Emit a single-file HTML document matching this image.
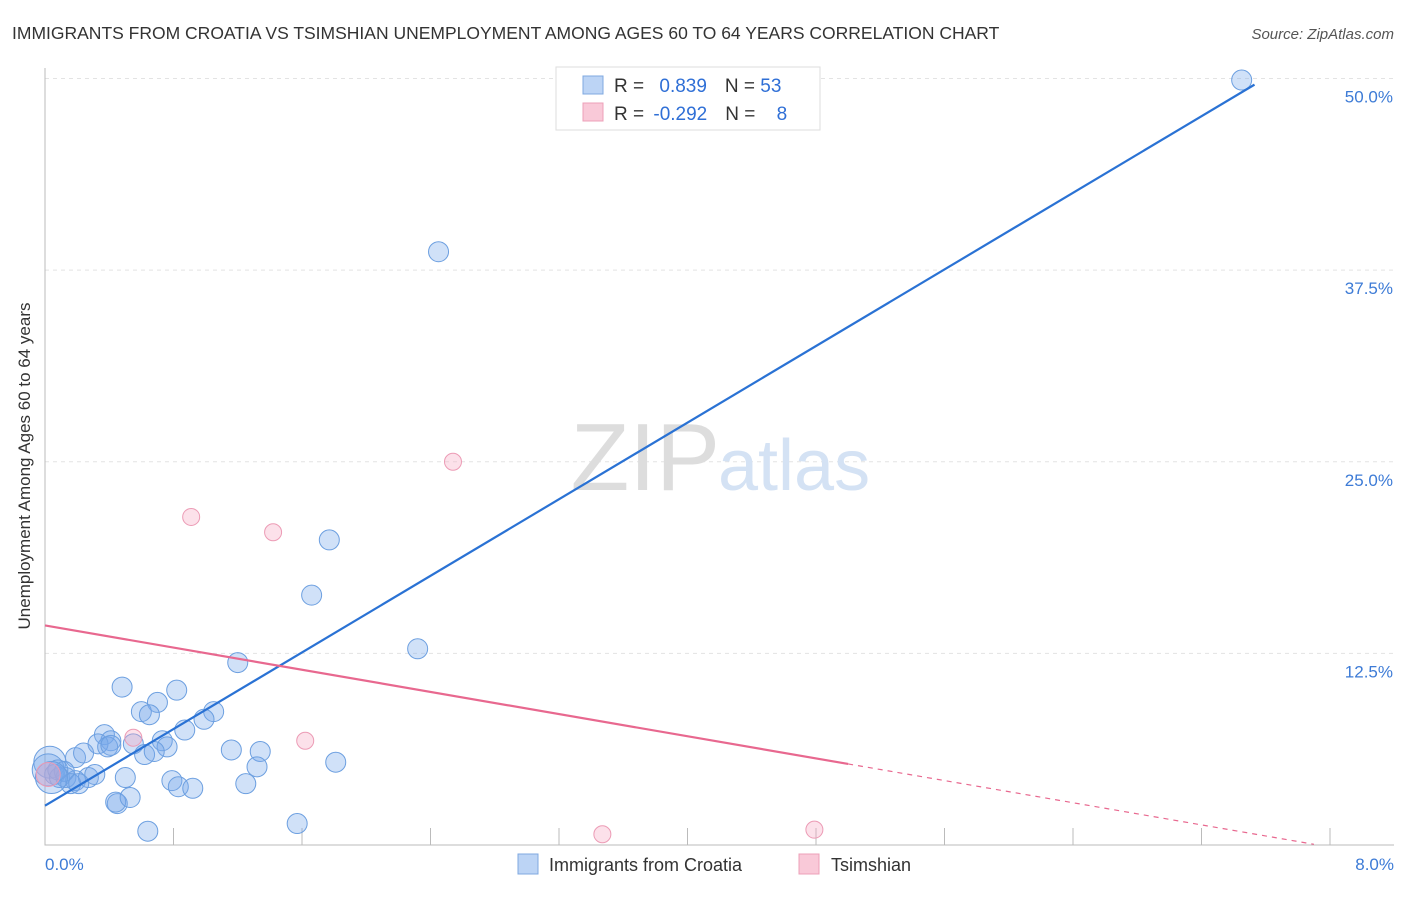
<!DOCTYPE html>
<html><head><meta charset="utf-8"><style>
body{margin:0;background:#fff;font-family:"Liberation Sans",sans-serif}
svg text{font-family:"Liberation Sans",sans-serif}
</style></head><body>
<svg width="1406" height="892">
<text x="12" y="39" font-size="17.5" fill="#333">IMMIGRANTS FROM CROATIA VS TSIMSHIAN UNEMPLOYMENT AMONG AGES 60 TO 64 YEARS CORRELATION CHART</text>
<text x="1394" y="39" font-size="15" fill="#555" font-style="italic" text-anchor="end">Source: ZipAtlas.com</text>
<g id="grid"></g>
<text x="720" y="490" font-size="96" font-family="Liberation Serif" fill="#ddd" text-anchor="end">ZIP</text>
<text x="718" y="490" font-size="72" fill="#d4e2f4">atlas</text>
<g id="marks"></g>
<text x="20" y="456" font-size="17" fill="#333" text-anchor="middle" transform="rotate(-90 30 456)">Unemployment Among Ages 60 to 64 years</text>
<g>
<rect x="556" y="67" width="264" height="63" fill="#fff" stroke="#ddd"/>
<rect x="583" y="76" width="20" height="18" fill="#bcd4f5" stroke="#7fa8e0"/>
<rect x="583" y="103" width="20" height="18" fill="#f9c9d8" stroke="#eda0b8"/>
<text x="614" y="92" font-size="19" fill="#333">R = <tspan fill="#2f6fd6" dx="10">0.839</tspan><tspan dx="18" fill="#333">N = </tspan><tspan fill="#2f6fd6">53</tspan></text>
<text x="614" y="120" font-size="19" fill="#333">R = <tspan fill="#2f6fd6" dx="4">-0.292</tspan><tspan dx="18" fill="#333">N = </tspan><tspan fill="#2f6fd6" dx="16">8</tspan></text>
</g>
<g>
<rect x="518" y="854" width="20" height="20" fill="#bcd4f5" stroke="#7fa8e0"/>
<text x="549" y="871" font-size="18" fill="#333">Immigrants from Croatia</text>
<rect x="799" y="854" width="20" height="20" fill="#f9c9d8" stroke="#eda0b8"/>
<text x="831" y="871" font-size="18" fill="#333">Tsimshian</text>
</g>
</svg>
<script>
const xTicks=[0,0.8,1.6,2.4,3.2,4.0,4.8,5.6,6.4,7.2,8.0];
const yTicks=[12.5,25,37.5,50];
const yTickLabels=["12.5%","25.0%","37.5%","50.0%"];
const xEndLabels=["0.0%","8.0%"];
const croatiaX=[7.45,2.45,1.77,1.66,2.32,1.20,0.48,0.82,0.70,0.60,0.65,1.05,0.99,0.87,0.37,0.41,0.33,0.55,0.73,0.76,0.62,0.68,1.16,1.34,1.81,1.32,0.03,0.02,0.06,0.09,0.13,0.19,0.27,0.31,0.50,0.79,0.83,0.92,1.25,0.45,0.44,0.53,0.64,1.57,0.19,0.24,0.12,0.16,0.21,0.08,0.04,0.39,0.41];
const croatiaY=[49.9,38.7,19.9,16.3,12.8,11.9,10.3,10.1,9.3,8.7,8.5,8.7,8.2,7.5,7.2,6.8,6.6,6.6,6.8,6.4,5.9,6.1,6.2,6.1,5.4,5.1,5.4,4.9,4.6,4.4,4.4,4.2,4.4,4.6,4.4,4.2,3.8,3.7,4.0,2.7,2.8,3.1,0.9,1.4,5.7,6.0,4.8,4.0,4.0,4.9,4.4,6.4,6.5];
const tsimX=[0.91,1.42,2.54,1.62,0.55,0.02,3.47,4.79];
const tsimY=[21.4,20.4,25.0,6.8,7.0,4.6,0.7,1.0];
const NS="http://www.w3.org/2000/svg";
const X=v=>45+v/8*1285, Y=v=>845-v*15.33;
function mk(t,a,p){const e=document.createElementNS(NS,t);for(const k in a)e.setAttribute(k,a[k]);p.appendChild(e);return e;}
const grid=document.getElementById('grid'), marks=document.getElementById('marks');
yTicks.forEach((t,i)=>{
 const l=mk('line',{x1:45,x2:1394,y1:Y(t),y2:Y(t),stroke:'#e3e3e3','stroke-dasharray':'4 4'},grid);
 
 
 const tx=mk('text',{x:1393,y:Y(t)+24,'font-size':17,fill:'#3d7bd6','text-anchor':'end'},grid);
 tx.textContent=yTickLabels[i];
 
 
});
const ax=mk('path',{d:'M45 68 V845 H1394',fill:'none',stroke:'#bbb'},grid);


xTicks.forEach(t=>{
 const l=mk('line',{x1:X(t),x2:X(t),y1:845,y2:828,stroke:'#bbb'},grid);
 
 
});
[[0,'start',45],[1,'end',1394]].forEach(([i,a,x])=>{
 const tx=mk('text',{x:x,y:870,'font-size':17,fill:'#3d7bd6','text-anchor':a},grid);
 tx.textContent=xEndLabels[i];
 
 
});
function fit(xs,ys){const n=xs.length;let mx=0,my=0;for(let i=0;i<n;i++){mx+=xs[i];my+=ys[i];}mx/=n;my/=n;let c=0,v=0;for(let i=0;i<n;i++){c+=(xs[i]-mx)*(ys[i]-my);v+=(xs[i]-mx)**2;}const b=c/v;return [my-b*mx,b];}
croatiaX.forEach((x,i)=>{
 const r=(x<0.05)?16:10;
 const c=mk('circle',{cx:X(x),cy:Y(croatiaY[i]),r:r,fill:'rgba(120,170,235,0.35)',stroke:'#6c9fe0','stroke-width':1},marks);
 
 
});
tsimX.forEach((x,i)=>{
 const c=mk('circle',{cx:X(x),cy:Y(tsimY[i]),r:(x<0.05)?12:8.5,fill:'rgba(245,170,195,0.35)',stroke:'#ec9bb5','stroke-width':1},marks);
 
 
});
const [ba,bb]=fit(croatiaX,croatiaY);
const bx1=Math.max(...croatiaX)+0.08;
const bl=mk('line',{x1:X(0),y1:Y(ba),x2:X(bx1),y2:Y(ba+bb*bx1),stroke:'#2a72d4','stroke-width':2.2},marks);


const [pa,pb]=fit(tsimX,tsimY);
const px1=5.0, px2=7.9;
const pl=mk('line',{x1:X(0),y1:Y(pa),x2:X(px1),y2:Y(pa+pb*px1),stroke:'#e8688f','stroke-width':2.2},marks);


const pd=mk('line',{x1:X(px1),y1:Y(pa+pb*px1),x2:X(px2),y2:Y(pa+pb*px2),stroke:'#e8688f','stroke-width':1.2,'stroke-dasharray':'5 5'},marks);


</script>
</body></html>
